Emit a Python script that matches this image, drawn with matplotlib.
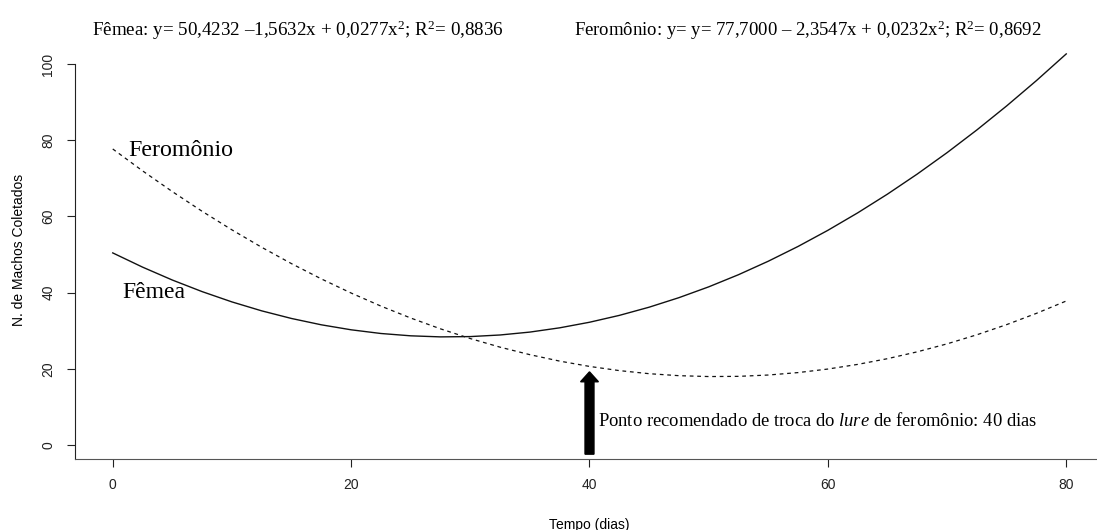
import numpy as np
import matplotlib
matplotlib.use('Agg')
import matplotlib.pyplot as plt

plt.rcParams['mathtext.fontset'] = 'custom'
plt.rcParams['mathtext.rm'] = 'Liberation Serif'
plt.rcParams['mathtext.it'] = 'Liberation Serif:italic'
plt.rcParams['font.family'] = ['Liberation Sans', 'DejaVu Sans']

dias = [0, 2.5, 5, 7.5, 10, 12.5, 15, 17.5, 20, 22.5, 25, 27.5, 30, 32.5,
        35, 37.5, 40, 42.5, 45, 47.5, 50, 52.5, 55, 57.5, 60, 62.5, 65,
        67.5, 70, 72.5, 75, 77.5, 80]
femea = [50.42, 46.69, 43.30, 40.26, 37.56, 35.21, 33.21, 31.55, 30.24,
         29.27, 28.66, 28.38, 28.46, 28.88, 29.64, 30.76, 32.22, 34.02,
         36.17, 38.67, 41.51, 44.70, 48.24, 52.12, 56.35, 60.93, 65.85,
         71.12, 76.73, 82.69, 89.00, 95.65, 102.65]
feromonio = [77.70, 71.96, 66.51, 61.34, 56.47, 51.89, 47.60, 43.60, 39.89,
             36.46, 33.33, 30.49, 27.94, 25.68, 23.71, 22.02, 20.63, 19.53,
             18.72, 18.20, 17.97, 18.02, 18.37, 19.01, 19.94, 21.16, 22.66,
             24.46, 26.55, 28.93, 31.60, 34.56, 37.80]

eq_femea = 'Fêmea: y= 50,4232 \u20131,5632x + 0,0277x$^{2}$; R$^{2}$= 0,8836'
eq_fero = 'Feromônio: y= y= 77,7000 \u2013 2,3547x + 0,0232x$^{2}$; R$^{2}$= 0,8692'
xticks = [0, 20, 40, 60, 80]
yticks = [0, 20, 40, 60, 80, 100]
troca = 40

fig = plt.figure(figsize=(10.97, 5.30), dpi=100)
ax = fig.add_axes([74.6 / 1097, (530 - 459) / 530, (1097 - 74.6) / 1097, (459 - 40) / 530])

ax.plot(dias, femea, color='#111111', lw=1.0, clip_on=False)
ax.plot(dias, feromonio, color='#111111', lw=0.9, ls=(0, (3, 3)), clip_on=False)

ax.set_xlim(-3.2, 82.58)
ax.set_ylim(-3.67, 106.3)

for s in ['top', 'right']:
    ax.spines[s].set_visible(False)
ax.spines['left'].set_bounds(-3.67, 100)
ax.spines['left'].set_color('#222222')
ax.spines['bottom'].set_color('#555555')

ax.set_xticks(xticks)
ax.set_yticks(yticks)
ax.tick_params(length=6, width=0.8, labelsize=10, pad=8, colors='#222222')
for lab in ax.get_yticklabels():
    lab.set_rotation(90)
    lab.set_va('center')

ax.set_xlabel('Tempo (dias)', fontsize=10)
ax.xaxis.set_label_coords(0.503, -0.14)
ax.set_ylabel('N. de Machos Coletados', fontsize=10)
ax.yaxis.set_label_coords(-0.048, 0.5)

serif = ['Liberation Serif', 'DejaVu Serif']
ax.text(1.3, 77.4, 'Feromônio', family=serif, fontsize=17.3, ha='left', va='center')
ax.text(0.8, 40, 'Fêmea', family=serif, fontsize=17, ha='left', va='center')

ax.arrow(troca, -2.4, 0, 21.6, width=0.75, head_width=1.5, head_length=2.6,
         length_includes_head=True, color='black')
ax.text(troca + 0.7, 6.2, 'Ponto recomendado de troca do $\\mathit{lure}$ de feromônio: 40 dias',
        family=serif, fontsize=13.4, ha='left', va='center')

fig.text(92 / 1097, 1 - 36 / 530, eq_femea, family=serif, fontsize=13.7, ha='left', va='baseline')
fig.text(574 / 1097, 1 - 36 / 530, eq_fero, family=serif, fontsize=13.5, ha='left', va='baseline')

fig.savefig('out.png', dpi=100)
